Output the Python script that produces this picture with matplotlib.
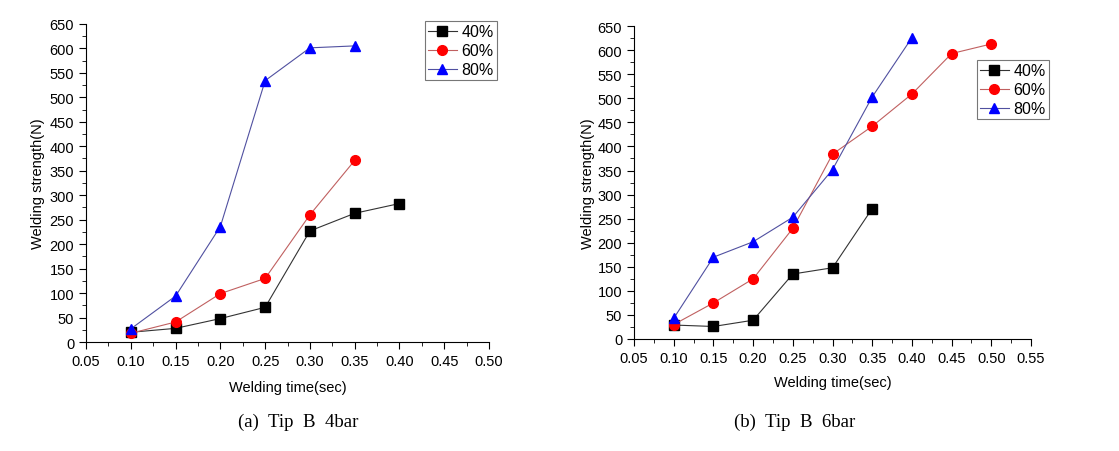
import matplotlib
matplotlib.use("Agg")
import matplotlib.pyplot as plt
from matplotlib.ticker import MultipleLocator, FormatStrFormatter

plt.rcParams['font.family'] = ['Liberation Sans', 'DejaVu Sans']

labels = ['40%', '60%', '80%']

# (a) Tip B 4bar
a_x40 = [0.10, 0.15, 0.20, 0.25, 0.30, 0.35, 0.40]
a_y40 = [20, 28, 48, 71, 227, 263, 283]
a_x60 = [0.10, 0.15, 0.20, 0.25, 0.30, 0.35]
a_y60 = [18, 41, 99, 130, 260, 371]
a_x80 = [0.10, 0.15, 0.20, 0.25, 0.30, 0.35]
a_y80 = [27, 94, 236, 534, 601, 605]

# (b) Tip B 6bar
b_x40 = [0.10, 0.15, 0.20, 0.25, 0.30, 0.35]
b_y40 = [29, 26, 39, 135, 148, 271]
b_x60 = [0.10, 0.15, 0.20, 0.25, 0.30, 0.35, 0.40, 0.45, 0.50]
b_y60 = [30, 75, 125, 230, 384, 442, 509, 593, 613]
b_x80 = [0.10, 0.15, 0.20, 0.25, 0.30, 0.35, 0.40]
b_y80 = [43, 170, 202, 253, 352, 503, 626]

captions = ['(a)  Tip  B  4bar', '(b)  Tip  B  6bar']

fig = plt.figure(figsize=(11.19, 4.52), dpi=100)
ax1 = fig.add_axes([0.0769, 0.241, 0.437 - 0.0769, 0.945 - 0.241])
ax2 = fig.add_axes([0.5666, 0.2478, 0.9214 - 0.5666, 0.940 - 0.2478])

styles = [dict(marker='s', mfc='black', mec='black', lc='#333333'),
          dict(marker='o', mfc='red', mec='red', lc='#c06060'),
          dict(marker='^', mfc='blue', mec='blue', lc='#5050a0')]


def draw(ax, series, xmax, legend_anchor, xpad, ypad):
    handles = []
    for (xs, ys), st, lab in zip(series, styles, labels):
        h, = ax.plot(xs, ys, color=st['lc'], lw=0.8, marker=st['marker'],
                     ms=7, mfc=st['mfc'], mec=st['mec'], label=lab)
        handles.append(h)
    ax.set_xlim(0.05, xmax)
    ax.set_ylim(0, 650)
    ax.xaxis.set_major_locator(MultipleLocator(0.05))
    ax.xaxis.set_minor_locator(MultipleLocator(0.025))
    ax.yaxis.set_major_locator(MultipleLocator(50))
    ax.yaxis.set_minor_locator(MultipleLocator(25))
    ax.xaxis.set_major_formatter(FormatStrFormatter('%.2f'))
    for s in ['top', 'right']:
        ax.spines[s].set_visible(False)
    ax.tick_params(which='major', direction='out', length=5, labelsize=10.5)
    ax.tick_params(which='minor', direction='out', length=3)
    ax.set_xlabel('Welding time(sec)', fontsize=10.5, labelpad=xpad)
    ax.set_ylabel('Welding strength(N)', fontsize=10.5, labelpad=ypad)
    leg = ax.legend(handles=handles, loc='upper right', bbox_to_anchor=legend_anchor,
                    bbox_transform=fig.transFigure, fontsize=11.5, frameon=True,
                    fancybox=False, edgecolor='#555555', borderpad=0.2,
                    borderaxespad=0, labelspacing=0.25, handlelength=1.8,
                    handletextpad=0.3)
    leg.get_frame().set_linewidth(0.8)


draw(ax1, [(a_x40, a_y40), (a_x60, a_y60), (a_x80, a_y80)], 0.50,
     (497 / 1119, 1 - 22 / 452), 9, 3)
draw(ax2, [(b_x40, b_y40), (b_x60, b_y60), (b_x80, b_y80)], 0.55,
     (1049 / 1119, 1 - 61 / 452), 7, 2)

fig.text(298 / 1119, 1 - 422 / 452, captions[0], ha='center', va='center',
         fontsize=13.5, family=['Liberation Serif', 'DejaVu Serif'])
fig.text(795 / 1119, 1 - 422 / 452, captions[1], ha='center', va='center',
         fontsize=13.5, family=['Liberation Serif', 'DejaVu Serif'])

fig.savefig('out.png', dpi=100)
